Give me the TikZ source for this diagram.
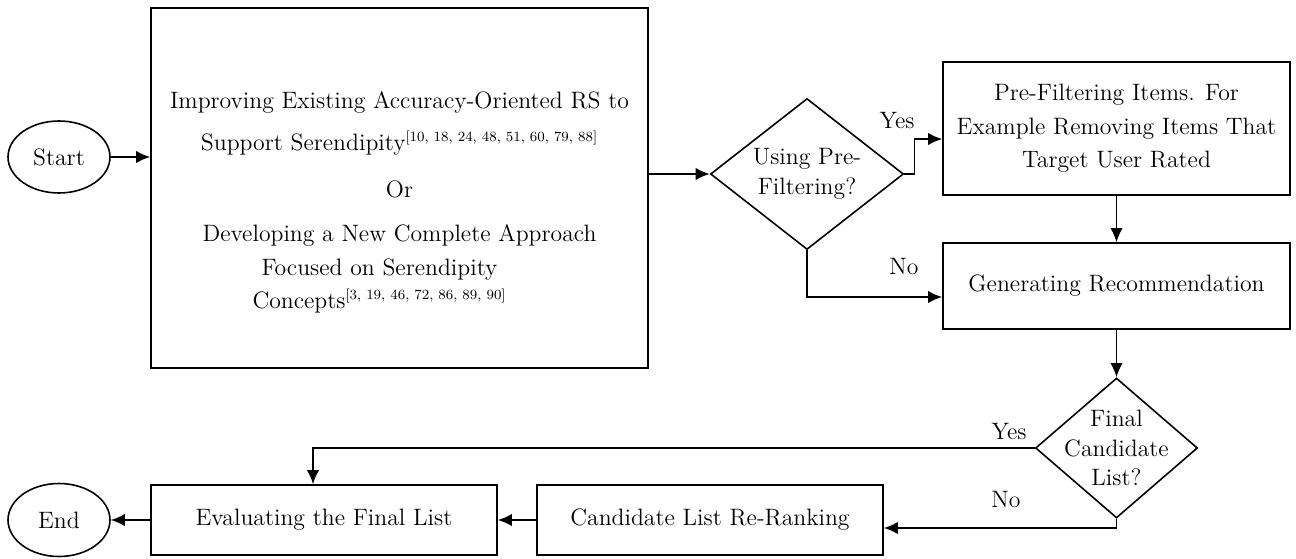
\documentclass[tikz,border=0pt]{standalone}
\usepackage{amsmath}
\usepackage{tikz}
\usetikzlibrary{shapes.geometric,arrows.meta}
\newcommand{\citesup}[1]{\textsuperscript{\fontsize{8}{8}\selectfont[#1]}}

\begin{document}
\begin{tikzpicture}
  \tikzset{font={\fontsize{13.5}{19}\selectfont},
    box/.style={draw,line width=0.9pt,rectangle,align=center,inner sep=0pt},
    term/.style={draw,line width=0.9pt,ellipse,minimum width=2.04cm,minimum height=1.44cm},
    decision/.style={draw,line width=0.9pt,diamond,inner sep=0pt},
    qtext/.style={align=center,font={\fontsize{13.5}{17}\selectfont}},
    arr/.style={line width=0.9pt,-{Latex[length=8pt,width=7pt]}}}
  \useasboundingbox (0,0) rectangle (25.92,11.16);
  % steps
  \node[term] (start) at (1.18,8.02) {Start};
  \node[box,minimum width=9.94cm,minimum height=7.2cm] (approach) at (7.99,7.40)
    {\rule{0pt}{26pt}Improving Existing Accuracy-Oriented RS to\\[0.17cm]
     Support Serendipity\citesup{10, 18, 24, 48, 51, 60, 79, 88}\\[0.27cm]
     Or\\[0.23cm]
     Developing a New Complete Approach\\
     Focused on Serendipity\rule{0.8cm}{0pt}\\
     Concepts\citesup{3, 19, 46, 72, 86, 89, 90}\rule{0.8cm}{0pt}};
  \node[decision,minimum width=3.86cm,minimum height=3.02cm,
    label={[qtext]center:Using Pre-\\Filtering?}] (prefq) at (16.14,7.68) {};
  \node[box,minimum width=6.94cm,minimum height=2.66cm] (prefilter) at (22.33,8.59)
    {Pre-Filtering Items. For\\Example Removing Items That\\Target User Rated};
  \node[box,minimum width=6.94cm,minimum height=1.72cm] (generate) at (22.33,5.44)
    {Generating Recommendation};
  \node[decision,minimum width=3.24cm,minimum height=2.80cm,
    label={[qtext]center:Final\\Candidate\\List?}] (finalq) at (22.33,2.20) {};
  \node[box,minimum width=6.92cm,minimum height=1.40cm] (rerank) at (14.20,0.76)
    {Candidate List Re-Ranking};
  \node[box,minimum width=6.92cm,minimum height=1.40cm] (evaluate) at (6.48,0.76)
    {Evaluating the Final List};
  \node[term,minimum height=1.46cm] (end) at (1.18,0.76) {End};
  % flow
  \draw[arr] (start) -- (start -| approach.west);
  \draw[arr] (prefq.west -| approach.east) -- (prefq.west);
  \draw[arr] (prefq.east) -- ++(0.2,0) |- ([yshift=-0.21cm]prefilter.west);
  \node (yes1) at (17.94,8.74) {Yes};
  \draw[arr] (prefq.south) |- ([yshift=-0.22cm]generate.west);
  \node (no1) at (18.08,5.82) {No};
  \draw[arr] (prefilter.south) -- (generate.north);
  \draw[arr] (generate.south) -- (finalq.north);
  \draw[arr] (finalq.west) -| ([xshift=-0.22cm]evaluate.north);
  \node (yes2) at (20.18,2.52) {Yes};
  \draw[arr] (finalq.south) |- ([yshift=-0.16cm]rerank.east);
  \node (no2) at (20.12,1.16) {No};
  \draw[arr] (rerank) -- (evaluate);
  \draw[arr] (evaluate) -- (end);
\end{tikzpicture}
\end{document}
